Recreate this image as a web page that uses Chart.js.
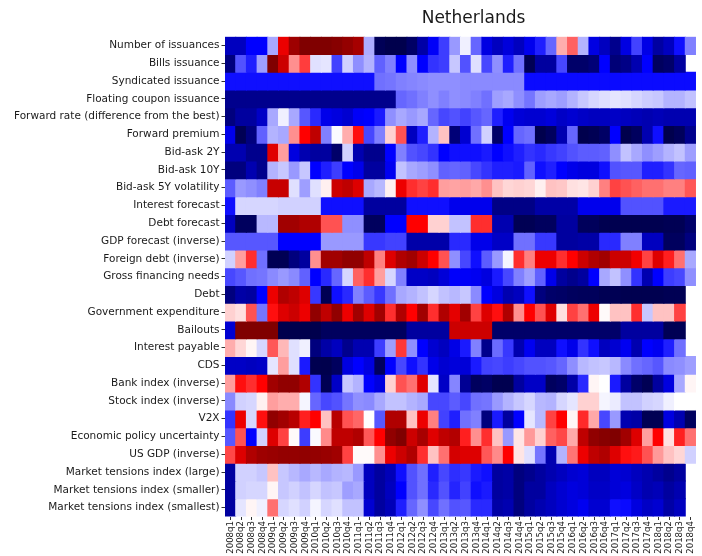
<!DOCTYPE html>
<html>
<head>
<meta charset="utf-8">
<script src="https://cdn.jsdelivr.net/npm/chart.js@4.4.1/dist/chart.umd.min.js"></script>
<style>
html,body{margin:0;padding:0;background:#fff;}
#wrap{width:702px;height:556px;}
</style>
</head>
<body>
<div id="wrap"><canvas id="c" width="702" height="556"></canvas></div>
<script>
const chartTitle = "Netherlands";
const quarters = ["2008q1","2008q2","2008q3","2008q4","2009q1","2009q2","2009q3","2009q4","2010q1","2010q2","2010q3","2010q4","2011q1","2011q2","2011q3","2011q4","2012q1","2012q2","2012q3","2012q4","2013q1","2013q2","2013q3","2013q4","2014q1","2014q2","2014q3","2014q4","2015q1","2015q2","2015q3","2015q4","2016q1","2016q2","2016q3","2016q4","2017q1","2017q2","2017q3","2017q4","2018q1","2018q2","2018q3","2018q4"];
const rowLabels = ["Number of issuances","Bills issuance","Syndicated issuance","Floating coupon issuance","Forward rate (difference from the best)","Forward premium","Bid-ask 2Y","Bid-ask 10Y","Bid-ask 5Y volatility","Interest forecast","Debt forecast","GDP forecast (inverse)","Foreign debt (inverse)","Gross financing needs","Debt","Government expenditure","Bailouts","Interest payable","CDS","Bank index (inverse)","Stock index (inverse)","V2X","Economic policy uncertainty","US GDP (inverse)","Market tensions index (large)","Market tensions index (smaller)","Market tensions index (smallest)"];

// values on a -1 (dark blue) .. 0 (white) .. 1 (dark red) scale; null = no data
const numberOfIssuances = [-0.68,-0.68,-0.5,-0.5,-0.17,0.58,0.88,1.0,1.0,1.0,0.97,0.92,0.85,-0.16,-0.97,-1,-1,-0.93,-0.75,-0.52,-0.38,-0.2,-0.03,-0.3,-0.58,-0.68,-0.6,-0.68,-0.55,-0.44,-0.3,0.16,0.31,-0.15,-0.58,-0.68,-0.82,-0.58,-0.37,-0.57,-0.76,-0.68,-0.47,-0.25];
const billsIssuance = [-0.86,-0.34,-0.44,-0.19,1.0,0.7,0.22,0.38,-0.06,-0.05,-0.37,-0.09,-0.22,-0.15,-0.31,-0.25,-0.5,-0.22,-0.5,-0.4,-0.38,-0.11,-0.34,-0.06,-0.36,-0.22,-0.44,-0.28,-0.98,-0.77,-0.77,-0.36,-0.92,-0.92,-0.88,-0.5,-0.88,-0.84,-0.72,-0.5,-0.95,-0.92,-0.77,null];
const syndicatedIssuance = [-0.47,-0.47,-0.47,-0.47,-0.47,-0.47,-0.47,-0.47,-0.47,-0.47,-0.47,-0.47,-0.47,-0.47,-0.28,-0.27,-0.25,-0.24,-0.23,-0.22,-0.22,-0.22,-0.23,-0.23,-0.23,-0.23,-0.23,-0.23,-0.48,-0.48,-0.48,-0.48,-0.48,-0.48,-0.48,-0.48,-0.48,-0.48,-0.48,-0.48,-0.48,-0.48,-0.48,-0.48];
const floatingCoupon = [-0.82,-0.82,-0.82,-0.82,-0.82,-0.82,-0.82,-0.82,-0.82,-0.82,-0.82,-0.82,-0.82,-0.82,-0.82,-0.82,-0.3,-0.28,-0.25,-0.22,-0.25,-0.22,-0.23,-0.25,-0.28,-0.19,-0.17,-0.22,-0.27,-0.19,-0.17,-0.19,-0.15,-0.11,-0.08,-0.06,-0.05,-0.06,-0.08,-0.1,-0.11,-0.15,-0.15,-0.12];
const forwardRate = [-0.86,-0.77,-0.77,-0.66,-0.17,-0.03,-0.17,-0.33,-0.42,-0.56,-0.59,-0.63,-0.52,-0.5,-0.45,-0.22,-0.17,-0.2,-0.17,-0.3,-0.36,-0.34,-0.37,-0.33,-0.3,-0.44,-0.54,-0.61,-0.63,-0.63,-0.6,-0.66,-0.63,-0.66,-0.68,-0.68,-0.66,-0.68,-0.7,-0.72,-0.7,-0.72,-0.72,-0.72];
const forwardPremium = [-0.56,-0.98,-0.86,-0.31,-0.15,-0.17,0.22,0.5,0.75,-0.25,-0.01,0.16,0.47,-0.36,-0.25,0.09,0.34,-0.68,-0.44,-0.15,0.12,-0.88,-0.63,-0.28,-0.09,-0.92,-0.5,-0.3,-0.28,-1,-0.95,-0.72,-0.3,-1,-0.98,-0.93,-0.5,-1,-0.95,-0.72,-0.47,-1,-0.96,-0.82];
const bidAsk2Y = [-0.72,-0.72,-0.82,-0.82,0.62,0.19,-0.59,-0.72,-0.77,-0.77,-0.92,-0.09,-0.72,-0.82,-0.82,-0.5,-0.25,-0.34,-0.36,-0.4,-0.5,-0.47,-0.47,-0.47,-0.45,-0.5,-0.47,-0.44,-0.4,-0.42,-0.39,-0.37,-0.34,-0.32,-0.32,-0.31,-0.22,-0.12,-0.17,-0.22,-0.19,-0.15,-0.12,-0.19];
const bidAsk10Y = [-0.86,-0.86,-0.72,-0.82,-0.15,-0.11,-0.2,-0.11,-0.5,-0.44,-0.38,-0.5,-0.56,-0.77,-0.77,-0.54,-0.12,-0.17,-0.19,-0.22,-0.31,-0.3,-0.31,-0.36,-0.4,-0.44,-0.44,-0.45,-0.31,-0.47,-0.44,-0.5,-0.56,-0.59,-0.59,-0.47,-0.34,-0.33,-0.33,-0.44,-0.44,-0.4,-0.3,-0.31];
const bidAsk5YVol = [-0.32,-0.2,-0.22,-0.25,0.72,0.72,-0.06,-0.19,-0.06,0.03,0.7,0.75,0.63,-0.17,-0.14,0.03,0.57,0.41,0.37,0.41,0.19,0.18,0.19,0.17,0.22,0.12,0.08,0.09,0.08,0.03,0.12,0.11,0.06,0.05,0.09,0.25,0.37,0.34,0.31,0.28,0.28,0.25,0.25,0.33];
const interestForecast = [-0.47,-0.08,-0.08,-0.08,-0.08,-0.09,-0.09,-0.09,-0.09,-0.47,-0.47,-0.47,-0.47,-0.77,-0.77,-0.77,-0.77,-0.47,-0.47,-0.47,-0.47,-0.55,-0.55,-0.55,-0.55,-0.84,-0.84,-0.84,-0.84,-0.75,-0.75,-0.75,-0.75,-0.55,-0.55,-0.55,-0.55,-0.34,-0.34,-0.34,-0.34,-0.45,-0.45,-0.45];
const debtForecast = [-0.68,-0.95,-0.95,-0.14,-0.14,0.87,0.87,0.81,0.81,0.34,0.34,-0.22,-0.22,-0.95,-0.95,-0.5,-0.5,0.5,0.5,0.09,0.09,-0.12,-0.12,0.41,0.41,-0.72,-0.72,-0.98,-0.98,-0.95,-0.95,-0.77,-0.77,-0.96,-0.96,-0.99,-0.99,-0.99,-0.99,-0.99,-0.99,-0.98,-0.98,-0.92];
const gdpForecast = [-0.33,-0.33,-0.33,-0.33,-0.33,-0.5,-0.5,-0.5,-0.5,-0.2,-0.2,-0.2,-0.2,-0.39,-0.39,-0.37,-0.37,-0.74,-0.74,-0.74,-0.74,-0.42,-0.42,-0.56,-0.56,-0.66,-0.66,-0.28,-0.28,-0.39,-0.39,-0.77,-0.77,-0.75,-0.75,-0.42,-0.42,-0.25,-0.25,-0.68,-0.68,-0.95,-0.95,-0.86];
const foreignDebt = [-0.09,0.19,0.41,-0.28,-0.98,-0.98,-0.86,-0.77,0.22,0.87,0.87,0.93,0.93,0.75,0.25,0.63,0.81,0.87,0.7,0.5,0.34,-0.22,-0.36,-0.47,-0.32,-0.2,-0.02,0.41,0.25,0.57,0.57,0.41,0.5,0.7,0.81,0.87,0.7,0.7,0.55,0.37,0.63,0.44,0.28,-0.17];
const grossFinancing = [-0.36,-0.33,-0.28,-0.27,-0.23,-0.2,-0.23,-0.31,-0.5,-0.42,-0.3,-0.08,0.31,0.41,0.19,-0.08,-0.25,-0.66,-0.66,-0.68,-0.61,-0.51,-0.52,-0.54,-0.59,-0.45,-0.36,-0.25,-0.19,-0.31,-0.56,-0.77,-0.82,-0.77,-0.5,-0.17,-0.12,-0.22,-0.4,-0.72,-0.5,-0.38,-0.36,-0.22];
const debt = [-0.86,-0.75,-0.77,-0.5,0.57,0.81,0.75,0.63,-0.39,-0.98,-0.47,-0.42,-0.25,-0.32,-0.39,-0.28,-0.17,-0.15,-0.12,-0.08,-0.12,-0.14,-0.11,-0.23,-0.5,-0.59,-0.72,-0.68,-0.47,-0.86,-0.92,-0.93,-0.95,-0.96,-0.96,-0.98,-0.98,-0.99,-0.99,-0.99,-0.99,-0.98,-0.98,null];
const govExpenditure = [0.09,0.06,0.34,-0.27,0.47,0.63,0.7,0.57,0.93,0.75,0.93,0.57,0.87,0.63,0.87,0.41,0.81,0.5,0.87,0.41,0.81,0.6,0.87,0.37,0.63,0.47,0.81,0.22,0.5,0.34,0.63,0.06,0.37,0.28,0.57,0.01,0.12,0.12,0.41,-0.11,0.12,0.12,0.37,null];
const bailouts = [-0.63,1.0,1.0,1.0,1.0,-1,-1,-1,-1,-0.95,-0.95,-0.95,-0.95,-0.95,-0.95,-0.95,-0.95,-0.77,-0.77,-0.77,-0.77,0.7,0.7,0.7,0.7,-0.92,-0.92,-0.92,-0.92,-0.92,-0.92,-0.92,-0.92,-0.92,-0.92,-0.92,-0.92,-0.77,-0.77,-0.77,-0.77,-0.98,-0.98,null];
const interestPayable = [0.16,0.08,0.02,-0.08,0.33,0.14,-0.06,-0.03,-0.86,-0.75,-0.68,-0.82,-0.72,-0.72,-0.38,-0.19,0.39,-0.22,-0.5,-0.63,-0.68,-0.57,-0.45,-0.25,-0.82,-0.29,-0.39,-0.72,-0.54,-0.68,-0.68,-0.47,-0.56,-0.4,-0.47,-0.68,-0.63,-0.54,-0.72,-0.5,-0.54,-0.44,-0.28,null];
const cds = [-0.66,-0.66,-0.68,-0.66,-0.05,0.19,-0.06,-0.45,-0.99,-1,-0.95,-0.59,-0.5,-0.59,-0.95,-0.5,-0.36,-0.47,-0.4,-0.56,-0.63,-0.6,-0.61,-0.45,-0.37,-0.36,-0.38,-0.36,-0.34,-0.34,-0.33,-0.3,-0.22,-0.14,-0.12,-0.11,-0.14,-0.23,-0.28,-0.3,-0.33,-0.23,-0.22,-0.19];
const bankIndex = [0.19,0.47,0.41,0.5,0.87,0.93,0.93,0.81,-0.4,-0.98,-0.66,-0.11,-0.15,-0.5,-0.59,0.09,0.34,0.28,0.62,-0.05,-0.66,-0.24,-0.8,-0.95,-0.93,-0.99,-0.99,-0.77,-0.66,-0.66,-0.95,-0.92,-0.75,-0.42,0.02,0,-0.45,-0.77,-0.92,-0.98,-0.77,-0.59,-0.17,0.02];
const stockIndex = [-0.23,-0.09,-0.08,0.03,0.19,0.16,0.16,-0.02,-0.3,-0.36,-0.34,-0.27,-0.22,-0.23,-0.17,-0.12,-0.12,-0.15,-0.17,-0.36,-0.36,-0.32,-0.36,-0.28,-0.27,-0.2,-0.15,-0.11,-0.08,-0.14,-0.15,-0.08,-0.05,0.09,0.09,-0.02,-0.04,-0.12,-0.12,-0.09,-0.08,-0.03,0.0,0.0];
const v2x = [-0.4,0.57,-0.08,0.47,0.93,0.87,0.78,0.44,0.5,0.12,0.78,0.34,0.3,0.0,-0.33,0.81,0.81,0.12,0.57,0.25,-0.37,-0.44,-0.28,-0.25,-0.86,-0.45,-0.77,-0.5,-0.05,-0.14,0.37,0.5,0.02,0.42,0.17,-0.36,-0.2,-0.72,-0.75,-0.98,-0.98,-0.59,-0.72,-0.95];
const policyUncertainty = [-0.33,0.34,-0.5,-0.09,0.63,0.37,0.01,-0.38,-0.01,0.23,0.75,0.75,0.81,0.33,0.5,0.93,1.0,0.7,0.84,0.62,0.75,0.8,0.44,0.22,0.41,0.12,-0.2,0.05,0.2,0.09,0.31,0.36,0.17,0.75,0.93,0.97,1.0,0.87,0.63,0.19,0.5,0.06,0.44,0.28];
const usGdp = [0.36,0.63,0.81,0.88,0.9,0.92,0.92,0.93,0.92,0.9,0.87,0.37,0.01,0.01,0.22,0.57,0.7,0.81,0.41,0.12,0.28,0.67,0.63,0.63,0.33,0.23,0.5,0.05,-0.06,-0.27,-0.72,-0.15,0.27,0.57,0.75,0.81,0.63,0.47,0.45,0.34,0.2,0.12,0.08,-0.09];
const mtiLarge = [-0.77,-0.09,-0.09,-0.11,0.12,-0.11,-0.14,-0.17,-0.14,-0.17,-0.15,-0.14,-0.2,-0.68,-0.77,-0.7,-0.47,-0.34,-0.28,-0.44,-0.36,-0.41,-0.39,-0.45,-0.47,-0.77,-0.75,-0.86,-0.82,-0.77,-0.72,-0.68,-0.63,-0.61,-0.68,-0.68,-0.61,-0.63,-0.68,-0.72,-0.77,-0.82,-0.77,null];
const mtiSmaller = [-0.77,-0.09,-0.08,-0.08,0.02,-0.11,-0.09,-0.12,-0.08,-0.12,-0.11,-0.19,-0.17,-0.68,-0.77,-0.68,-0.5,-0.34,-0.28,-0.42,-0.34,-0.43,-0.37,-0.47,-0.45,-0.77,-0.75,-0.86,-0.77,-0.77,-0.68,-0.63,-0.59,-0.61,-0.66,-0.66,-0.61,-0.59,-0.66,-0.72,-0.7,-0.77,-0.72,null];
const mtiSmallest = [-0.77,-0.05,0.02,-0.03,0.28,-0.08,-0.06,-0.09,-0.02,-0.08,-0.06,-0.12,-0.12,-0.63,-0.77,-0.7,-0.44,-0.3,-0.22,-0.36,-0.28,-0.34,-0.33,-0.42,-0.42,-0.75,-0.72,-0.86,-0.77,-0.72,-0.68,-0.63,-0.59,-0.54,-0.63,-0.63,-0.47,-0.48,-0.59,-0.66,-0.63,-0.75,-0.68,null];

const rowValues = [numberOfIssuances,billsIssuance,syndicatedIssuance,floatingCoupon,forwardRate,forwardPremium,bidAsk2Y,bidAsk10Y,bidAsk5YVol,interestForecast,debtForecast,gdpForecast,foreignDebt,grossFinancing,debt,govExpenditure,bailouts,interestPayable,cds,bankIndex,stockIndex,v2x,policyUncertainty,usGdp,mtiLarge,mtiSmaller,mtiSmallest];

// matplotlib "seismic" colormap
function seismic(v) {
  let t = Math.max(0, Math.min(1, (v + 1) / 2));
  let r, g, b;
  if (t < 0.25) { r = 0; g = 0; b = 0.3 + 0.7 * t / 0.25; }
  else if (t < 0.5) { const s = (t - 0.25) / 0.25; r = s; g = s; b = 1; }
  else if (t < 0.75) { const s = (t - 0.5) / 0.25; r = 1; g = 1 - s; b = 1 - s; }
  else { const s = (t - 0.75) / 0.25; r = 1 - 0.5 * s; g = 0; b = 0; }
  return `rgb(${Math.round(r*255)},${Math.round(g*255)},${Math.round(b*255)})`;
}

const datasets = rowValues.map((vals, j) => ({
  label: rowLabels[j],
  data: vals.map(v => v === null ? null : [j, j + 1]),
  backgroundColor: vals.map(v => v === null ? 'rgba(0,0,0,0)' : seismic(v)),
  borderWidth: 0,
  barPercentage: 1,
  categoryPercentage: 1,
  grouped: false,
  inflateAmount: 0.5
}));

const titleShift = {
  id: 'titleShift',
  afterLayout(chart) {
    const tb = chart.titleBlock;
    if (tb) { tb.left = 245; tb.right = 702; }
  }
};

const FONT = "'DejaVu Sans', 'Liberation Sans', sans-serif";

new Chart(document.getElementById('c'), {
  type: 'bar',
  data: { labels: quarters, datasets },
  plugins: [titleShift],
  options: {
    responsive: false,
    animation: false,
    devicePixelRatio: 1,
    layout: { padding: { left: 0, right: 4.3, top: 0, bottom: 0 } },
    plugins: {
      legend: { display: false },
      tooltip: { enabled: false },
      title: {
        display: true,
        text: chartTitle,
        color: '#1a1a1a',
        font: { family: FONT, size: 17, weight: 'normal' },
        padding: { top: 8, bottom: 8.3 }
      }
    },
    scales: {
      x: {
        type: 'category',
        offset: true,
        grid: { display: true, drawOnChartArea: false, drawTicks: true, tickLength: 3.5, offset: false, color: '#333', lineWidth: 1 },
        border: { display: false },
        ticks: {
          autoSkip: false, minRotation: 90, maxRotation: 90, padding: 1,
          color: '#1a1a1a', font: { family: FONT, size: 8.6 }
        },
        afterFit(scale) { scale.height = 39.5; }
      },
      y: {
        type: 'linear',
        min: 0, max: 27, reverse: true,
        grid: { display: true, drawOnChartArea: false, drawTicks: true, tickLength: 3.5, color: '#333', lineWidth: 1 },
        border: { display: false },
        afterBuildTicks(scale) { scale.ticks = rowLabels.map((_, j) => ({ value: j + 0.5 })); },
        ticks: {
          autoSkip: false, padding: 2,
          color: '#1a1a1a', font: { family: FONT, size: 10.5 },
          callback: (value) => rowLabels[Math.floor(value)]
        },
        afterFit(scale) { scale.width = 225; }
      }
    }
  }
});
</script>
</body>
</html>
